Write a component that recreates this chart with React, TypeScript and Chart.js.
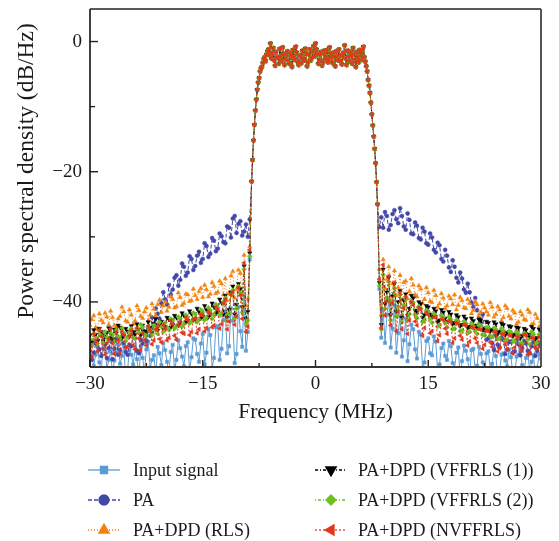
import { useEffect, useRef } from 'react';
import { Chart, registerables } from 'chart.js';
import { drawPoint } from 'chart.js/helpers';

Chart.register(...registerables);

// Sampling grid (MHz)
const grid = (a: number, b: number, s: number) => {
  const n = Math.round((b - a) / s) + 1;
  return Array.from({ length: n }, (_, i) => +(a + i * s).toFixed(3));
};
const FREQ_LEFT = [...grid(-30, -9, 0.25), -8.75];
const FREQ_BAND = grid(-8.5, 8.25, 0.125);
const FREQ_RIGHT = [8.5, 8.75, ...grid(9, 30, 0.25)];
const FREQ = [...FREQ_LEFT, ...FREQ_BAND, ...FREQ_RIGHT];

const X_TICKS = [-30, -15, 0, 15, 30];
const X_MINOR = [-22.5, -7.5, 7.5, 22.5];
const Y_TICKS = [0, -20, -40];
const Y_MINOR = [-10, -30];

// In-band PSD, common to all curves (dB/Hz), f = -8.5 .. 8.25
const BAND = [
  -21.5, -18.2, -15.2, -12.8, -10.6, -8.9, -7.4, -6.3, -5.6, -4.6,
  -4.1, -3.9, -3.3, -2.7, -2.4, -3.0, -2.0, -1.5, -1.2, -2.1,
  -0.3, -2.6, -1.8, -1.0, -2.9, -3.7, -1.6, -2.5, -2.4, -3.4,
  -1.1, -2.3, -3.0, -0.9, -1.9, -3.6, -2.7, -2.0, -1.5, -2.9,
  -3.4, -1.8, -2.2, -3.9, -1.3, -2.4, -2.8, -0.8, -1.7, -3.1,
  -3.6, -2.2, -2.1, -3.3, -1.4, -2.6, -2.9, -1.1, -1.8, -3.8,
  -3.2, -2.0, -1.2, -2.9, -2.5, -1.5, -0.7, -2.3, -0.3, -1.2,
  -1.9, -3.4, -2.8, -2.0, -1.6, -3.7, -3.1, -1.4, -2.0, -2.7,
  -1.3, -3.2, -2.7, -0.9, -1.8, -2.5, -3.3, -1.7, -2.3, -3.8,
  -1.5, -2.4, -2.9, -1.2, -2.1, -3.0, -3.5, -2.2, -1.7, -0.6,
  -2.6, -3.6, -1.4, -2.3, -3.0, -1.6, -2.2, -3.4, -1.0, -2.0,
  -2.8, -3.9, -1.6, -2.5, -3.2, -1.3, -1.9, -2.8, -1.3, -0.8,
  -2.4, -3.1, -3.8, -4.6, -5.9, -6.8, -7.9, -9.4, -11.2, -12.9,
  -14.6, -16.5, -18.7, -21.6, -25.0,
];

// Lower adjacent band, f = -30 .. -9 (step 0.25), -8.75
const INPUT_L = [
  -47.5, -48.6, -49.8, -48.1, -46.9, -49.3, -50.6, -46.4, -47.2, -50.2,
  -48.9, -47.6, -51.2, -49.0, -47.8, -46.5, -49.5, -48.3, -46.8, -52.0,
  -50.3, -47.4, -48.1, -49.6, -47.0, -48.8, -51.5, -46.9, -48.6, -50.7,
  -47.3, -46.1, -50.1, -48.9, -48.2, -51.3, -46.9, -47.9, -49.7, -46.3,
  -47.4, -49.2, -50.8, -47.7, -46.6, -50.4, -48.9, -45.9, -47.1, -48.4,
  -49.9, -46.8, -46.2, -50.5, -48.5, -45.6, -45.8, -48.0, -49.2, -46.4,
  -44.9, -49.6, -47.8, -44.2, -45.1, -50.1, -48.6, -43.9, -43.7, -48.9,
  -47.2, -42.8, -41.5, -47.9, -46.8, -41.0, -42.9, -49.4, -48.0, -40.8,
  -44.5, -46.9, -39.0, -47.5, -44.6, -33.5,
];
const PA_L = [
  -46.2, -48.9, -47.8, -46.4, -45.9, -47.3, -48.3, -45.1, -46.5, -48.6,
  -47.1, -46.0, -48.8, -47.2, -45.7, -48.1, -47.4, -45.4, -46.3, -47.7,
  -48.1, -46.6, -46.8, -44.9, -45.6, -47.5, -47.9, -45.8, -46.4, -44.6,
  -46.0, -44.0, -45.2, -42.4, -43.6, -41.0, -41.8, -42.6, -40.2, -38.5,
  -39.6, -40.4, -37.4, -38.9, -38.1, -36.3, -35.9, -37.5, -36.6, -34.1,
  -34.6, -36.0, -35.5, -33.0, -33.4, -35.1, -34.5, -32.9, -32.3, -34.0,
  -33.4, -31.0, -31.4, -33.1, -32.6, -30.2, -30.6, -32.2, -31.8, -29.5,
  -29.9, -30.8, -31.0, -28.4, -28.6, -30.1, -27.2, -26.8, -29.4, -28.0,
  -27.6, -29.8, -29.2, -28.1, -30.0, -27.3,
];
const RLS_L = [
  -43.6, -42.7, -42.1, -43.9, -44.2, -41.8, -42.8, -43.2, -41.7, -42.3,
  -43.5, -41.4, -42.4, -43.6, -44.0, -42.6, -42.2, -40.8, -41.5, -42.9,
  -43.1, -41.2, -42.0, -43.4, -42.9, -40.6, -41.3, -42.2, -42.5, -41.5,
  -40.9, -42.8, -42.0, -40.3, -41.1, -42.1, -40.4, -39.7, -41.6, -40.6,
  -40.0, -41.4, -40.8, -39.2, -39.6, -40.9, -40.7, -38.6, -39.3, -40.5,
  -40.2, -38.8, -38.9, -39.9, -39.8, -38.0, -39.0, -39.6, -38.4, -37.9,
  -39.3, -37.4, -38.1, -39.2, -38.8, -37.0, -37.6, -38.7, -38.5, -36.8,
  -37.2, -38.9, -36.4, -39.8, -38.6, -36.0, -35.3, -39.4, -38.0, -35.1,
  -35.6, -38.8, -32.8, -40.6, -39.5, -31.5,
];
const VFF1_L = [
  -45.1, -46.2, -44.3, -45.0, -45.9, -44.1, -44.6, -46.0, -45.3, -44.7,
  -44.0, -45.5, -45.7, -44.2, -44.8, -43.6, -43.9, -45.6, -45.2, -44.1,
  -44.5, -45.3, -43.7, -44.6, -45.0, -43.4, -44.2, -45.1, -43.6, -44.5,
  -44.8, -43.1, -43.9, -44.7, -43.3, -42.6, -44.4, -43.5, -43.0, -44.2,
  -43.8, -42.4, -42.7, -43.9, -43.5, -42.1, -42.4, -43.6, -43.2, -41.7,
  -42.1, -43.1, -42.9, -41.4, -41.8, -42.8, -42.6, -41.0, -41.5, -42.5,
  -42.2, -40.6, -41.2, -42.3, -41.9, -40.2, -40.8, -41.8, -41.5, -39.6,
  -40.1, -41.9, -39.0, -42.4, -41.2, -38.5, -37.6, -41.9, -40.4, -37.2,
  -38.0, -40.8, -34.5, -42.6, -41.5, -32.5,
];
const VFF2_L = [
  -45.8, -46.7, -44.9, -45.6, -46.4, -44.5, -45.2, -46.3, -44.6, -45.4,
  -46.0, -44.8, -45.1, -46.1, -44.3, -45.3, -45.7, -44.0, -44.8, -46.0,
  -45.4, -44.6, -44.1, -45.5, -45.6, -44.2, -44.7, -43.5, -43.9, -45.0,
  -45.2, -43.8, -44.4, -45.1, -43.6, -44.3, -44.9, -43.1, -43.8, -44.6,
  -43.2, -44.0, -44.3, -42.6, -42.9, -44.1, -43.7, -42.3, -42.6, -43.8,
  -43.4, -42.0, -42.3, -43.3, -43.0, -41.7, -41.9, -43.1, -42.7, -41.2,
  -41.6, -42.8, -42.4, -40.9, -41.3, -42.6, -42.0, -40.4, -40.9, -42.1,
  -41.7, -40.0, -39.4, -42.9, -41.8, -38.9, -38.2, -42.5, -41.0, -37.6,
  -38.6, -41.6, -35.0, -43.4, -42.8, -33.0,
];
const NVFF_L = [
  -46.8, -48.5, -44.9, -46.0, -47.6, -44.3, -45.3, -47.2, -48.1, -46.3,
  -45.7, -44.1, -46.4, -48.0, -44.6, -45.9, -47.9, -44.5, -45.1, -47.0,
  -46.9, -45.2, -44.4, -46.6, -47.3, -44.0, -45.6, -47.4, -44.8, -45.8,
  -46.7, -43.7, -44.3, -46.5, -45.9, -44.2, -43.8, -45.7, -46.2, -43.5,
  -44.1, -45.9, -45.5, -42.9, -43.4, -45.2, -45.8, -43.6, -43.0, -44.7,
  -44.9, -42.4, -42.8, -45.1, -44.6, -42.7, -42.5, -44.8, -44.2, -41.9,
  -42.1, -44.5, -44.0, -41.5, -41.8, -43.9, -43.6, -40.8, -41.2, -44.1,
  -43.4, -40.2, -39.6, -44.2, -43.0, -38.9, -38.4, -43.5, -42.2, -37.8,
  -39.0, -42.6, -34.0, -44.6, -43.8, -32.0,
];

// Upper adjacent band, f = 8.5, 8.75, 9 .. 30 (step 0.25)
const INPUT_R = [
  -38.0, -45.5,
  -41.2, -46.3, -42.0, -39.8, -47.0, -44.1, -40.5, -47.8, -44.8, -42.2,
  -48.4, -45.9, -42.6, -49.1, -46.5, -43.5, -44.2, -47.3, -48.7, -44.6,
  -45.0, -50.4, -49.3, -46.0, -45.6, -47.9, -48.2, -45.3, -46.1, -50.8,
  -49.6, -47.1, -46.4, -48.3, -48.9, -46.0, -46.8, -49.4, -50.2, -47.8,
  -47.0, -51.6, -49.1, -46.7, -47.5, -48.8, -51.4, -47.4, -47.2, -50.5,
  -49.8, -46.9, -48.0, -49.3, -51.0, -47.9, -47.6, -50.3, -49.5, -47.2,
  -48.3, -51.8, -50.6, -48.1, -47.9, -49.0, -49.9, -47.3, -48.5, -50.9,
  -51.2, -48.4, -48.1, -47.5, -49.7, -50.6, -48.6, -47.6, -50.8, -49.2,
  -48.2, -51.5, -50.1, -48.0, -48.7,
];
const PA_R = [
  -28.5, -27.0,
  -28.6, -26.2, -26.8, -28.9, -28.2, -26.5, -25.9, -27.3, -27.9, -25.6,
  -26.8, -28.4, -28.9, -26.4, -27.4, -29.5, -29.6, -27.8, -28.3, -30.2,
  -30.4, -28.6, -29.2, -31.0, -31.2, -29.5, -30.1, -32.0, -32.4, -30.9,
  -31.3, -33.4, -33.8, -32.0, -32.9, -34.7, -35.4, -33.6, -34.6, -36.3,
  -37.0, -35.5, -36.4, -38.1, -38.6, -37.2, -38.5, -40.1, -40.8, -39.4,
  -41.3, -42.5, -43.2, -41.9, -44.4, -45.8, -45.6, -44.3, -46.3, -47.4,
  -45.2, -46.6, -47.0, -45.5, -45.8, -48.0, -47.3, -46.2, -46.1, -47.8,
  -47.6, -45.9, -46.5, -48.2, -47.1, -46.0, -46.4, -47.5, -47.9, -46.8,
  -46.2, -48.3, -47.5, -46.4, -46.9,
];
const RLS_R = [
  -35.0, -42.0,
  -33.5, -37.9, -36.5, -34.6, -40.0, -37.2, -35.2, -39.0, -37.8, -35.9,
  -39.8, -37.0, -36.8, -39.5, -38.4, -36.4, -37.4, -38.9, -39.2, -37.5,
  -38.0, -40.2, -39.6, -37.8, -38.6, -39.9, -40.1, -38.2, -39.0, -40.8,
  -40.3, -38.7, -39.4, -41.0, -40.6, -39.1, -39.5, -40.4, -38.9, -41.2,
  -40.5, -39.3, -39.8, -40.9, -41.0, -39.6, -40.2, -41.8, -41.3, -39.9,
  -40.4, -42.1, -41.6, -40.3, -40.9, -41.5, -42.0, -40.1, -40.8, -42.3,
  -41.9, -40.7, -41.2, -42.9, -42.4, -40.6, -41.0, -42.2, -42.6, -41.3,
  -41.7, -43.4, -43.1, -41.5, -42.0, -42.7, -42.8, -41.2, -41.6, -43.5,
  -43.3, -41.9, -42.5, -43.8, -43.0,
];
const VFF1_R = [
  -37.0, -43.5,
  -35.0, -40.3, -38.5, -36.2, -42.0, -39.1, -37.2, -41.5, -40.0, -38.3,
  -42.4, -39.7, -38.8, -42.1, -41.0, -39.0, -39.4, -41.3, -41.6, -40.0,
  -40.3, -42.4, -42.0, -40.6, -40.8, -41.9, -42.3, -41.0, -41.4, -43.1,
  -42.8, -41.2, -41.6, -42.5, -43.0, -41.5, -41.9, -43.4, -43.2, -42.0,
  -42.3, -43.7, -43.5, -42.2, -42.6, -44.0, -43.8, -42.5, -42.9, -43.6,
  -44.0, -42.7, -42.8, -44.3, -44.1, -43.0, -43.2, -44.5, -44.3, -43.1,
  -43.4, -44.9, -44.6, -43.3, -43.5, -45.1, -44.7, -43.7, -43.8, -45.3,
  -45.0, -43.9, -44.0, -45.6, -45.2, -44.1, -44.3, -45.0, -45.4, -43.8,
  -44.1, -45.7, -45.5, -44.2, -44.6,
];
const VFF2_R = [
  -37.5, -44.2,
  -35.8, -41.0, -39.3, -36.9, -42.8, -39.8, -37.9, -42.2, -40.8, -38.9,
  -43.1, -40.5, -39.6, -42.8, -41.9, -39.9, -40.1, -42.0, -42.5, -40.7,
  -41.0, -43.1, -42.8, -41.3, -41.5, -42.6, -43.2, -41.8, -42.1, -43.8,
  -43.6, -42.0, -42.4, -43.2, -43.9, -42.3, -42.7, -44.2, -44.1, -42.8,
  -43.0, -44.5, -44.4, -43.0, -43.3, -44.8, -44.6, -43.3, -43.7, -44.4,
  -44.9, -43.5, -43.6, -45.1, -45.1, -43.9, -44.0, -45.3, -45.3, -44.0,
  -44.2, -45.7, -45.6, -44.1, -44.4, -45.9, -45.8, -44.5, -44.7, -46.1,
  -46.0, -44.6, -44.9, -46.4, -46.3, -44.8, -45.1, -45.8, -46.5, -44.6,
  -45.0, -46.6, -46.2, -45.0, -45.4,
];
const NVFF_R = [
  -36.5, -44.0,
  -34.3, -42.1, -39.8, -36.0, -43.6, -40.2, -37.0, -44.5, -41.5, -38.6,
  -44.2, -41.0, -39.2, -44.9, -42.8, -40.0, -40.5, -43.0, -43.6, -40.9,
  -41.2, -45.2, -44.0, -41.6, -42.0, -44.8, -44.5, -42.3, -42.4, -46.0,
  -45.1, -42.6, -42.8, -44.1, -44.9, -42.9, -43.1, -46.3, -45.6, -43.2,
  -43.4, -45.2, -45.8, -43.5, -43.6, -46.7, -46.1, -43.9, -44.0, -45.6,
  -46.3, -44.1, -44.3, -47.2, -46.6, -44.4, -44.5, -46.2, -46.9, -44.6,
  -44.7, -47.6, -47.1, -44.9, -45.0, -46.5, -47.3, -45.1, -45.2, -47.9,
  -47.0, -45.3, -45.4, -46.8, -47.5, -45.0, -45.1, -48.1, -47.8, -45.5,
  -45.6, -47.0, -47.2, -45.4, -46.0,
];

const SERIES = [
  { label: 'Input signal', left: INPUT_L, right: INPUT_R, color: '#5b9bd5', style: 'rect', rot: 0, dash: [], r: 2.3, order: 6 },
  { label: 'PA', left: PA_L, right: PA_R, color: '#4348a8', style: 'circle', rot: 0, dash: [4, 2], r: 2.0, order: 5 },
  { label: 'PA+DPD (RLS)', left: RLS_L, right: RLS_R, color: '#f3820d', style: 'triangle', rot: 0, dash: [1, 2], r: 2.5, order: 4 },
  { label: 'PA+DPD (VFFRLS (1))', left: VFF1_L, right: VFF1_R, color: '#000000', style: 'triangle', rot: 180, dash: [3, 2, 1, 2], r: 2.5, order: 3 },
  { label: 'PA+DPD (VFFRLS (2))', left: VFF2_L, right: VFF2_R, color: '#6cc11c', style: 'rectRot', rot: 0, dash: [1, 2, 3, 2], r: 2.4, order: 2 },
  { label: 'PA+DPD (NVFFRLS)', left: NVFF_L, right: NVFF_R, color: '#e2361c', style: 'triangle', rot: -90, dash: [2, 2], r: 2.5, order: 1 },
];

const FONT = '"Liberation Serif", "Times New Roman", serif';
const Y_TITLE = 'Power spectral density (dB/Hz)';
const fmt = (v: number) => String(v).replace('-', '\u2212');

const framePlugin = {
  id: 'framePlugin',
  afterDatasetsDraw(chart: any) {
    const { ctx, chartArea: a, scales } = chart;
    ctx.save();
    ctx.setLineDash([]);
    ctx.lineCap = 'butt';
    ctx.strokeStyle = '#222';
    ctx.lineWidth = 1.4;
    const xt = (v: number, len: number) => {
      const px = scales.x.getPixelForValue(v);
      ctx.beginPath();
      ctx.moveTo(px, a.bottom);
      ctx.lineTo(px, a.bottom - len);
      ctx.stroke();
    };
    const yt = (v: number, len: number) => {
      const py = scales.y.getPixelForValue(v);
      ctx.beginPath();
      ctx.moveTo(a.left, py);
      ctx.lineTo(a.left + len, py);
      ctx.stroke();
    };
    X_TICKS.forEach((v) => xt(v, 7));
    X_MINOR.forEach((v) => xt(v, 4));
    Y_TICKS.forEach((v) => yt(v, 8));
    Y_MINOR.forEach((v) => yt(v, 5));
    const line = (x1: number, y1: number, x2: number, y2: number, c: string, w: number) => {
      ctx.strokeStyle = c;
      ctx.lineWidth = w;
      ctx.beginPath();
      ctx.moveTo(x1, y1);
      ctx.lineTo(x2, y2);
      ctx.stroke();
    };
    line(a.left, a.top, a.right, a.top, '#222', 1.4);
    line(a.right, a.top, a.right, a.bottom, '#555', 2);
    line(a.left, a.bottom, a.right, a.bottom, '#333', 2);
    line(a.left, a.top, a.left, a.bottom, '#111', 1.6);
    ctx.restore();
  },
  afterDraw(chart: any) {
    const { ctx } = chart;
    ctx.save();
    // y-axis title
    ctx.save();
    ctx.translate(27, 171);
    ctx.rotate(-Math.PI / 2);
    ctx.fillStyle = '#1a1a1a';
    ctx.font = `23.5px ${FONT}`;
    ctx.textAlign = 'center';
    ctx.textBaseline = 'middle';
    ctx.fillText(Y_TITLE, 0, 0);
    ctx.restore();
    // legend
    SERIES.forEach((s, i) => {
      const col = i < 3 ? 0 : 1;
      const row = i % 3;
      const x0 = col ? 315 : 88;
      const y = 470 + row * 30;
      ctx.strokeStyle = s.color;
      ctx.fillStyle = s.color;
      ctx.lineWidth = 1.3;
      ctx.setLineDash(s.dash);
      ctx.beginPath();
      ctx.moveTo(x0, y);
      ctx.lineTo(x0 + 32, y);
      ctx.stroke();
      ctx.setLineDash([]);
      drawPoint(ctx, { pointStyle: s.style, rotation: s.rot, radius: s.style === 'triangle' ? 6 : 5, borderWidth: 1 } as any, x0 + 16, y);
      ctx.fillStyle = '#1a1a1a';
      ctx.font = `18px ${FONT}`;
      ctx.textBaseline = 'middle';
      ctx.textAlign = 'left';
      ctx.fillText(s.label, col ? 358 : 133, y + 1);
    });
    ctx.restore();
  },
};

export default function App() {
  const ref = useRef<HTMLCanvasElement | null>(null);
  useEffect(() => {
    if (!ref.current) return;
    const datasets = SERIES.map((s) => {
      const vals = [...s.left, ...BAND, ...s.right];
      return {
        label: s.label,
        data: FREQ.map((x, i) => ({ x, y: vals[i] })),
        borderColor: s.color,
        backgroundColor: s.color,
        borderWidth: 1,
        borderDash: s.dash,
        pointStyle: s.style,
        pointRotation: s.rot,
        pointRadius: s.r,
        pointBorderWidth: 0.5,
        pointBackgroundColor: s.color,
        pointBorderColor: s.color,
        tension: 0,
        order: s.order,
      };
    });
    const zeroPad = (sc: any) => {
      sc.paddingLeft = 0;
      sc.paddingRight = 0;
      sc.paddingTop = 0;
      sc.paddingBottom = 0;
    };
    const chart = new Chart(ref.current, {
      type: 'line',
      data: { datasets } as any,
      options: {
        animation: false,
        responsive: false,
        maintainAspectRatio: false,
        events: [],
        layout: { padding: { left: 0, right: 18, top: 9, bottom: 114 }, autoPadding: false },
        plugins: { legend: { display: false }, tooltip: { enabled: false } },
        scales: {
          x: {
            type: 'linear',
            min: -30,
            max: 30,
            afterBuildTicks: (sc: any) => {
              sc.ticks = X_TICKS.map((v) => ({ value: v }));
            },
            afterFit: (sc: any) => {
              sc.height = 60;
              zeroPad(sc);
            },
            grid: { display: false, drawTicks: false, tickLength: 0 },
            border: { display: false },
            ticks: {
              autoSkip: false,
              maxRotation: 0,
              padding: 6,
              color: '#1a1a1a',
              font: { family: FONT, size: 19 },
              callback: (v: any) => fmt(v),
            },
            title: {
              display: true,
              text: 'Frequency (MHz)',
              color: '#1a1a1a',
              font: { family: FONT, size: 21.5 },
              padding: { top: 0, bottom: 2 },
            },
          },
          y: {
            type: 'linear',
            min: -50,
            max: 5,
            afterBuildTicks: (sc: any) => {
              sc.ticks = Y_TICKS.map((v) => ({ value: v }));
            },
            afterFit: (sc: any) => {
              sc.width = 90;
              zeroPad(sc);
            },
            grid: { display: false, drawTicks: false, tickLength: 0 },
            border: { display: false },
            ticks: {
              autoSkip: false,
              padding: 8,
              color: '#1a1a1a',
              font: { family: FONT, size: 19 },
              callback: (v: any) => fmt(v),
            },
            title: { display: false },
          },
        },
      } as any,
      plugins: [framePlugin as any],
    });
    return () => chart.destroy();
  }, []);
  return (
    <div style={{ position: 'absolute', left: 0, top: 0, width: 559, height: 541, background: '#fff' }}>
      <canvas ref={ref} width={559} height={541} style={{ width: 559, height: 541, display: 'block' }} />
    </div>
  );
}
